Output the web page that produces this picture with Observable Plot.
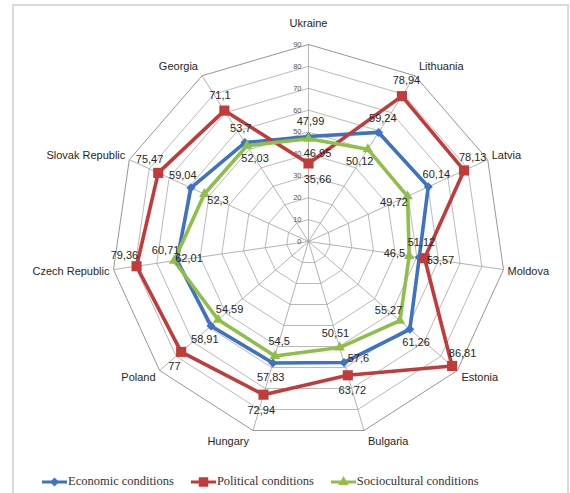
<!DOCTYPE html>
<html>
<head>
<meta charset="utf-8">
<script src="https://cdn.jsdelivr.net/npm/d3@7"></script>
<script src="https://cdn.jsdelivr.net/npm/@observablehq/plot@0.6"></script>
<style>
  html, body { margin: 0; padding: 0; background: #fff; }
  body { width: 570px; height: 493px; overflow: hidden; position: relative; font-family: "Liberation Sans", Arial, sans-serif; }
  #frame { position: absolute; left: 12px; top: 4px; width: 557px; height: 510px; border: 2px solid #dadada; box-sizing: border-box; }
  #chart { position: absolute; left: 0; top: 0; }
  #legend { position: absolute; left: 42px; top: 474px; display: flex; align-items: center; gap: 17px;
            font-family: "Liberation Serif", "Times New Roman", serif; font-size: 12.5px; color: #333; white-space: nowrap; }
  #legend .item { display: flex; align-items: center; }
  #legend svg { display: block; margin-right: 1px; }
</style>
</head>
<body>
<div id="frame"></div>
<div id="chart"></div>
<div id="legend"></div>
<script>
// ---- data ----
const categories = ["Ukraine", "Lithuania", "Latvia", "Moldova", "Estonia", "Bulgaria",
                    "Hungary", "Poland", "Czech Republic", "Slovak Republic", "Georgia"];
const economic      = [47.99, 59.24, 60.14, 51.12, 61.26, 57.6, 57.83, 58.91, 60.71, 59.04, 53.7];
const political     = [35.66, 78.94, 78.13, 53.57, 86.81, 63.72, 72.94, 77, 79.36, 75.47, 71.1];
const sociocultural = [46.95, 50.12, 49.72, 46.5, 55.27, 50.51, 54.5, 54.59, 62.01, 52.3, 52.03];
const seriesNames = ["Economic conditions", "Political conditions", "Sociocultural conditions"];
const ticks = [0, 10, 20, 30, 40, 50, 60, 70, 80, 90];

// ---- styling / layout ----
const colors = ["#3f72c0", "#c23b3b", "#8fbf48"];
const W = 570, H = 460;
const cx = 308, cy = 241, R = 197;      // pixel centre and radius of the 90 ring
const maxV = 90;
const k = R / maxV;                      // px per unit
const n = categories.length;
const ang = i => i * 2 * Math.PI / n;

const seriesValues = [economic, political, sociocultural];
const long = [];
seriesNames.forEach((s, si) => {
  seriesValues[si].forEach((v, i) => long.push({series: s, si, i, cat: categories[i], v,
    x: v * Math.sin(ang(i)), y: v * Math.cos(ang(i))}));
});
const loops = [];
seriesNames.forEach((s, si) => {
  for (let j = 0; j <= n; j++) {
    const i = j % n, v = seriesValues[si][i];
    loops.push({series: s, x: v * Math.sin(ang(i)), y: v * Math.cos(ang(i))});
  }
});
const rings = [];
ticks.forEach(t => { for (let j = 0; j <= n; j++) rings.push({t, x: t * Math.sin(ang(j % n)), y: t * Math.cos(ang(j % n))}); });

// data labels: placement rule
const fmt = v => String(v).replace(".", ",");
const norm = ([a, b]) => { const l = Math.hypot(a, b) || 1; return [a / l, b / l]; };
const labels = long.map(d => {
  const a = ang(d.i);
  const out = [Math.sin(a), Math.cos(a)];
  const inward = [-out[0], -out[1]];
  const ccw = [-Math.cos(a), Math.sin(a)];
  const vert = out[1] > -0.5 ? 1 : -1;
  const blend = norm([out[0], out[1] + vert]);
  const vals = seriesValues.map(s => s[d.i]);
  const others = vals.filter((_, j) => j !== d.si);
  let dir, dist;
  if (d.si === 1) {
    dist = 16;
    if (d.v === Math.min(...vals)) dir = inward;
    else if (others.some(o => Math.abs(o - d.v) < 8)) dir = out;
    else if (d.v > 82) dir = ccw;
    else dir = blend;
  } else if (d.si === 2) {
    dir = inward; dist = 15;
  } else {
    dist = 15;
    const red = vals[1];
    if (red > d.v && red - d.v < 8) dir = ccw;
    else dir = blend;
  }
  // on the vertical axis keep labels clear of the tick labels
  const onAxis = Math.abs(out[0]) < 0.1;
  const shift = onAxis ? (dir === inward ? 9 : 2) / k : 0;
  return {text: fmt(d.v), x: d.x + dir[0] * dist / k + shift, y: d.y + dir[1] * dist / k};
});

// category labels
const catLabels = categories.map((c, i) => {
  const a = ang(i), s = Math.sin(a), co = Math.cos(a);
  const anchor = s > 0.1 ? "start" : s < -0.1 ? "end" : "middle";
  const hx = anchor === "start" ? 4 : anchor === "end" ? -4 : 0;
  const vy = co * (anchor === "middle" ? 21 : 11);
  return {c, anchor, x: maxV * s + hx / k, y: maxV * co + vy / k};
});

const diamond = {draw(ctx, size) { const s = Math.sqrt(size / 2); ctx.moveTo(0, -s); ctx.lineTo(s, 0); ctx.lineTo(0, s); ctx.lineTo(-s, 0); ctx.closePath(); }};

const plot = Plot.plot({
  width: W, height: H, margin: 0,
  x: {domain: [-cx / k, (W - cx) / k], axis: null},
  y: {domain: [-(H - cy) / k, cy / k], axis: null},
  color: {domain: seriesNames, range: colors},
  style: {fontFamily: "'Liberation Sans', Arial, sans-serif", background: "transparent"},
  marks: [
    Plot.line(rings.filter(d => d.t < 90), {x: "x", y: "y", z: "t", stroke: "#a8a8a8", strokeWidth: 0.8}),
    Plot.line(rings.filter(d => d.t === 90), {x: "x", y: "y", z: "t", stroke: "#8a8a8a", strokeWidth: 0.9}),
    Plot.link(categories, {x1: 0, y1: 0, x2: (d, i) => maxV * Math.sin(ang(i)), y2: (d, i) => maxV * Math.cos(ang(i)), stroke: "#a0a0a0", strokeWidth: 0.8}),
    Plot.text(ticks, {x: -7 / k, y: d => d, text: d => String(d), textAnchor: "end", fontSize: 7.5, fill: "#555"}),
    Plot.line(loops, {x: "x", y: "y", z: "series", stroke: "series", strokeWidth: 3.6, strokeLinejoin: "round"}),
    Plot.dot(long.filter(d => d.si === 0), {x: "x", y: "y", symbol: diamond, r: 3.6, fill: colors[0], stroke: "none"}),
    Plot.dot(long.filter(d => d.si === 1), {x: "x", y: "y", symbol: "square", r: 5.7, fill: colors[1], stroke: "none"}),
    Plot.dot(long.filter(d => d.si === 2), {x: "x", y: "y", symbol: "triangle", r: 3.9, fill: colors[2], stroke: "none"}),
    Plot.text(labels, {x: "x", y: "y", text: "text", fontSize: 11, fill: "#262626"}),
    Plot.text(catLabels.filter(d => d.anchor === "start"), {x: "x", y: "y", text: "c", textAnchor: "start", fontSize: 11, fill: "#262626"}),
    Plot.text(catLabels.filter(d => d.anchor === "end"), {x: "x", y: "y", text: "c", textAnchor: "end", fontSize: 11, fill: "#262626"}),
    Plot.text(catLabels.filter(d => d.anchor === "middle"), {x: "x", y: "y", text: "c", textAnchor: "middle", fontSize: 11, fill: "#262626"})
  ]
});
document.getElementById("chart").appendChild(plot);

// legend
const legend = d3.select("#legend");
const shapes = [d3.symbol(diamond, 40), d3.symbol(d3.symbolSquare, 90), d3.symbol(d3.symbolTriangle, 45)];
seriesNames.forEach((s, si) => {
  const item = legend.append("div").attr("class", "item");
  const svg = item.append("svg").attr("width", 25).attr("height", 12);
  svg.append("line").attr("x1", 0).attr("x2", 25).attr("y1", 6).attr("y2", 6).attr("stroke", colors[si]).attr("stroke-width", 3);
  svg.append("path").attr("d", shapes[si]()).attr("transform", "translate(12.5,6)").attr("fill", colors[si]);
  item.append("span").text(s);
});
</script>
</body>
</html>
